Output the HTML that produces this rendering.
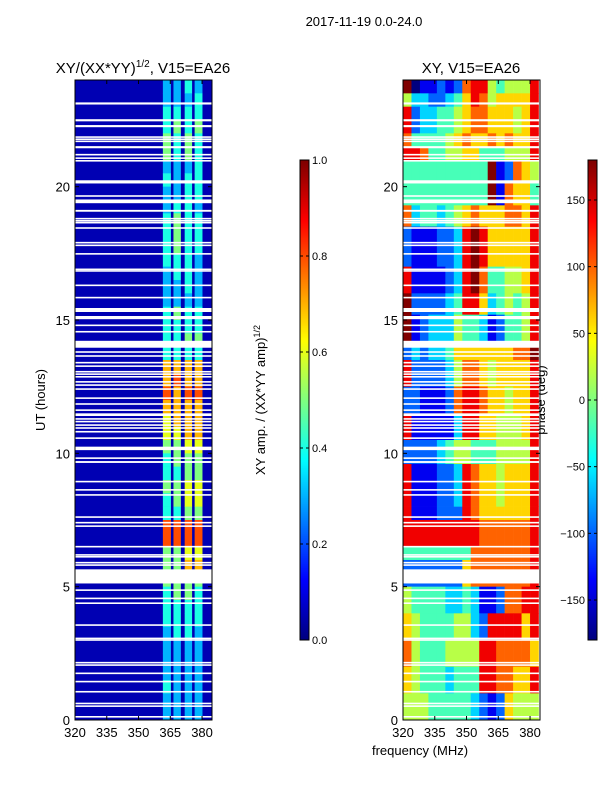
<!DOCTYPE html>
<html><head><meta charset="utf-8"><style>
body{margin:0;background:#fff;font-family:"Liberation Sans",sans-serif;}
svg text{font-family:"Liberation Sans",sans-serif;fill:#000;}
</style></head><body>
<svg id="fig" width="600" height="800" xmlns="http://www.w3.org/2000/svg">
<text x="364" y="26" font-size="13" text-anchor="middle">2017-11-19 0.0-24.0</text>
<text x="143" y="73" font-size="15" text-anchor="middle">XY/(XX*YY)<tspan dy="-6" font-size="10">1/2</tspan><tspan dy="6">, V15=EA26</tspan></text>
<text x="471" y="73" font-size="15" text-anchor="middle">XY, V15=EA26</text>
<text transform="translate(45,400) rotate(-90)" font-size="13" text-anchor="middle">UT (hours)</text>
<text transform="translate(265,400) rotate(-90)" font-size="13" text-anchor="middle">XY amp. / (XX*YY amp)<tspan dy="-5" font-size="9">1/2</tspan></text>
<text transform="translate(545,400) rotate(-90)" font-size="13" text-anchor="middle">phase (deg)</text>
<text x="420" y="755" font-size="13" text-anchor="middle">frequency (MHz)</text>
<g id="left"></g>
<g id="right"></g>
<g id="cb1"></g>
<g id="cb2"></g>
</svg>
<script>
// amplitude per stripe (4 stripes), rows from 24h down to 0h in 0.5h steps, digit/10
const ampRows=["3343","3334","4444","4545","5454","5454","3334","4344","3344","3443","4544","4544","4544","4443","3443","3343","3333","4544","4444","4455","4444","7777","7877","8788","7777","6777","6677","5566","4555","4455","5566","4566","4455","8888","8888","5566","5577","5555","4554","4444","4444","3443","3333","3333","3333","4333","3333","3333"];
const stripeFreqs=[[361.5,365.3],[366.5,370],[371.8,375.3],[376.5,380.2]];
const ampBackground=0.05;
// phase: [startHour,endHour,16 cols 320..384 (4MHz), digit 0..9 -> -180..180]
const phaseBlocks=[
[23.5,24,"9011212788545558"],[23,23.5,"5332234687566668"],[22,23,"8233445677666568"],
[21.5,22,"7444456766767668"],[21,21.5,"8874455664445558"],[20.2,21,"4444444444912765"],
[19.3,20.2,"4444444444917664"],[18.5,19.3,"7344345676667768"],[17,18.5,"2111223898666668"],
[16,17,"8111123897445568"],[15.2,16,"9222234886345458"],[14,15.2,"9123335443124458"],
[13.5,14,"2323346666666779"],[12.5,13.5,"8222235776566668"],[11.5,12.5,"2211127887665668"],
[10.5,11.5,"8111113886655568"],[9.6,10.5,"2222345544455558"],[8,9.6,"8111223876656668"],
[7.5,8,"8111222876666668"],[6.5,7.5,"8888888887777778"],[6,6.5,"4444444477777778"],
[5,6,"2222222677777778"],[4,5,"5444433431127788"],[3,4,"6544445532888868"],
[2,3,"7544455558877776"],[1,2,"6544434448877668"],[0,1,"5554444432126555"]];
// flagged (blank) time ranges, hours
const gaps=[[23.08,23.16],[22.45,22.53],[22.23,22.31],[21.83,21.89],[21.75,21.81],[21.67,21.73],[21.44,21.52],[21.17,21.23],[21.04,21.1],[20.94,21.0],[20.12,20.24],[19.62,19.68],[19.38,19.52],[19.06,19.13],[18.77,18.83],[18.69,18.75],[18.62,18.68],[18.42,18.48],[17.87,17.93],[17.77,17.83],[17.45,17.51],[16.87,16.93],[16.81,16.87],[16.27,16.33],[15.81,15.87],[15.3,15.45],[15.03,15.15],[14.77,14.83],[14.53,14.59],[13.96,14.22],[13.77,13.83],[13.62,13.68],[13.37,13.43],[13.24,13.3],[13.03,13.09],[12.94,13.0],[12.84,12.9],[12.65,12.71],[12.53,12.59],[12.38,12.44],[12.04,12.1],[11.82,11.88],[11.59,11.65],[11.4,11.5],[11.26,11.32],[11.16,11.22],[11.03,11.09],[10.92,10.98],[10.78,10.84],[10.54,10.6],[10.12,10.25],[9.79,9.85],[9.64,9.71],[8.91,8.97],[8.6,8.66],[8.41,8.47],[7.58,7.64],[7.37,7.43],[7.24,7.3],[6.47,6.53],[6.16,6.22],[6.09,6.15],[5.87,5.93],[5.78,5.84],[5.12,5.65],[4.84,4.9],[4.53,4.59],[4.35,4.41],[3.53,3.59],[3.03,3.09],[2.97,3.03],[2.12,2.18],[2.03,2.09],[1.72,1.78],[1.41,1.47],[1.03,1.09],[0.59,0.65],[0.49,0.55],[0.09,0.15]];
const xTicks=[320,335,350,365,380];
const yTicks=[0,5,10,15,20];
const ampTicks=[0,0.2,0.4,0.6,0.8,1.0];
const phaseTicks=[-150,-100,-50,0,50,100,150];

const NS="http://www.w3.org/2000/svg";
const T=80,B=720,F0=320,F1=384.7,H=24;
function jet(v){v=Math.max(0,Math.min(1,v));
 const c=x=>Math.round(255*Math.max(0,Math.min(1,1.5-Math.abs(4*v-x))));
 return `rgb(${c(3)},${c(2)},${c(1)})`;}
function yS(h){return B-(h/H)*(B-T);}
function mk(tag,attrs,parent){const e=document.createElementNS(NS,tag);for(const k in attrs)e.setAttribute(k,attrs[k]);parent.appendChild(e);return e;}
// left
const gl=document.getElementById('left');
const lx=f=>75+(f-F0)/(F1-F0)*137;
let bg=mk('rect',{x:75,y:T,width:137,height:B-T,fill:jet(ampBackground)},gl);


ampRows.forEach((row,i)=>{const h1=H-i*0.5,h0=h1-0.5;
 for(let s=0;s<4;s++){const v=(+row[s])/10;
  const r=mk('rect',{x:lx(stripeFreqs[s][0]),y:yS(h1),width:lx(stripeFreqs[s][1])-lx(stripeFreqs[s][0]),height:yS(h0)-yS(h1)+0.3,fill:jet(v)},gl);
  
  }});
// right
const gr=document.getElementById('right');
const rx=f=>403+(f-F0)/(F1-F0)*137;
phaseBlocks.forEach(b=>{for(let c=0;c<16;c++){const v=(+b[2][c])/9;
 const f0=F0+c*4,f1=Math.min(F1,f0+4);
 const r=mk('rect',{x:rx(f0),y:yS(b[1]),width:rx(f1)-rx(f0)+0.3,height:yS(b[0])-yS(b[1])+0.3,fill:jet(v)},gr);
 
 }});
// gaps and axes
[[gl,75],[gr,403]].forEach(([g,L])=>{
 gaps.forEach(gp=>{const r=mk('rect',{x:L,y:yS(gp[1]),width:137,height:Math.max(1.3,yS(gp[0])-yS(gp[1])),fill:'#fff'},g);
  
  });
 const fr=mk('rect',{x:L,y:T,width:137,height:B-T,fill:'none',stroke:'#000','stroke-width':1},g);
 
 
 const xs=f=>L+(f-F0)/(F1-F0)*137;
 xTicks.forEach(t=>{mk('line',{x1:xs(t),x2:xs(t),y1:B,y2:B-4,stroke:'#000'},g);mk('line',{x1:xs(t),x2:xs(t),y1:T,y2:T+4,stroke:'#000'},g);
  const tx=mk('text',{x:xs(t),y:B+17,'font-size':13,'text-anchor':'middle'},g);tx.textContent=t;
  
  });
 yTicks.forEach(t=>{mk('line',{x1:L,x2:L+4,y1:yS(t),y2:yS(t),stroke:'#000'},g);mk('line',{x1:L+137,x2:L+133,y1:yS(t),y2:yS(t),stroke:'#000'},g);
  const tx=mk('text',{x:L-5,y:yS(t)+5,'font-size':13,'text-anchor':'end'},g);tx.textContent=t;
  
  });
});
// colorbars
function cbar(g,x,lo,hi,ticks,amp){
 for(let i=0;i<240;i++){mk('rect',{x:x,y:640-(i+1)*2,width:9,height:2.3,fill:jet(i/239)},g);}
 mk('rect',{x:x,y:160,width:9,height:480,fill:'none',stroke:'#000'},g);
 ticks.forEach(t=>{const y=640-(t-lo)/(hi-lo)*480;
  mk('line',{x1:x,x2:x+3,y1:y,y2:y,stroke:'#000'},g);mk('line',{x1:x+9,x2:x+6,y1:y,y2:y,stroke:'#000'},g);
  const tx=mk('text',{x:amp?x+12:x-3,y:y+4,'font-size':11,'text-anchor':amp?'start':'end'},g);
  tx.textContent=amp?t.toFixed(1):(t<0?'\u2212'+(-t):String(t));
  
  });
}
cbar(document.getElementById('cb1'),300,0,1,ampTicks,true);
cbar(document.getElementById('cb2'),588,-180,180,phaseTicks,false);
</script>
</body></html>
